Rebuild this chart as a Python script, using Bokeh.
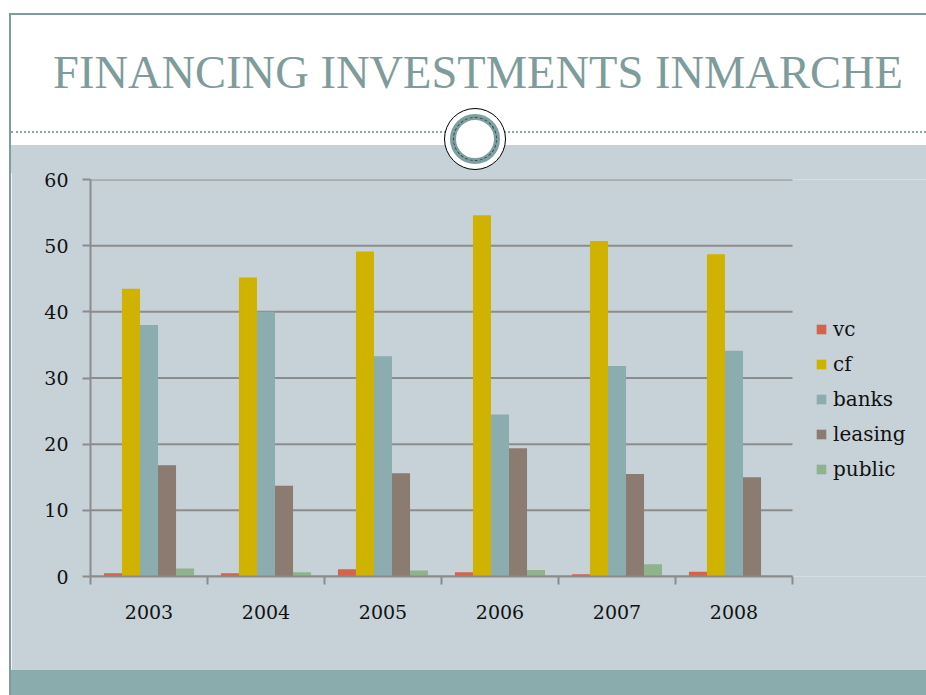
from bokeh.plotting import figure
from bokeh.models import ColumnDataSource, Range1d, FixedTicker, Div
from bokeh.layouts import column, row
from bokeh.transform import dodge
from bokeh.embed import file_html
from bokeh.resources import INLINE

# ---------------- data ----------------
title = "FINANCING INVESTMENTS INMARCHE"
years = ["2003", "2004", "2005", "2006", "2007", "2008"]
series = ["vc", "cf", "banks", "leasing", "public"]
vc = [0.5, 0.5, 1.1, 0.65, 0.35, 0.7]
cf = [43.5, 45.2, 49.1, 54.6, 50.7, 48.7]
banks = [38.0, 40.0, 33.3, 24.5, 31.8, 34.1]
leasing = [16.8, 13.7, 15.6, 19.4, 15.5, 15.0]
public = [1.2, 0.65, 0.9, 1.0, 1.85, 0.0]
y_ticks = [0, 10, 20, 30, 40, 50, 60]

colors = {"vc": "#d6624a", "cf": "#cfb300", "banks": "#8badb0",
          "leasing": "#8c7b70", "public": "#8fb38c"}

BG = "#c6d1d8"
TEAL = "#8aacac"
FRAME = "#7f9c9c"
GRID = "#8c8c8c"
SERIF = "DejaVu Serif"

# ---------------- header (HTML) ----------------
hdr_html = f"""
<div style="position:relative;width:926px;height:170px;background:white;overflow:visible;margin:0;padding:0">
  <div style="position:absolute;left:11px;top:145px;width:915px;height:28px;background:{BG}"></div>
  <div style="position:absolute;left:9px;top:13px;width:917px;height:160px;box-sizing:border-box;
              border-top:2px solid {FRAME};border-left:2px solid {FRAME}"></div>
  <div style="position:absolute;left:11px;top:131px;width:915px;height:0;border-top:2px dotted #8fa9a9"></div>
  <div style="position:absolute;left:0;top:50px;width:956px;text-align:center;white-space:nowrap;
              font-family:'Liberation Serif';font-size:46.5px;line-height:46px;color:{FRAME}">{title}</div>
  <div style="position:absolute;left:444px;top:108px;width:62px;height:62px;box-sizing:border-box;
              border:1px solid black;border-radius:50%;background:white"></div>
  <div style="position:absolute;left:450px;top:114px;width:50px;height:50px;box-sizing:border-box;
              border:6px solid #7fa0a0;border-radius:50%"></div>
  <div style="position:absolute;left:453px;top:117px;width:44px;height:44px;box-sizing:border-box;
              border:1px dashed #2f4848;border-radius:50%"></div>
</div>
"""
hdr = Div(text=hdr_html, width=926, height=170, margin=0)

# left frame strip beside the chart
strip_html = f"""
<div style="position:relative;width:11px;height:500px;background:white;margin:0;padding:0">
  <div style="position:absolute;left:9px;top:0;width:2px;height:500px;background:{FRAME}"></div>
</div>
"""
strip = Div(text=strip_html, width=11, height=500, margin=0)

# ---------------- chart ----------------
n = len(years)
centers = [i + 0.5 for i in range(n)]
src = ColumnDataSource(dict(x=centers, vc=vc, cf=cf, banks=banks, leasing=leasing, public=public))

# plot area spans 90..926 px; the category axis (0..n) occupies 90..792 px
x_end = n * (926 - 90) / (792 - 90)
p = figure(width=915, height=500, x_range=Range1d(0, x_end), y_range=Range1d(0, 60),
           toolbar_location=None, output_backend="svg",
           min_border_left=79, min_border_right=0, min_border_top=9, min_border_bottom=94)
p.margin = 0
p.background_fill_color = BG
p.border_fill_color = BG
p.outline_line_color = None
p.xgrid.visible = False
p.ygrid.visible = False

# horizontal gridlines limited to the category span
p.segment(x0=[0] * len(y_ticks), x1=[n] * len(y_ticks), y0=y_ticks, y1=y_ticks,
          line_color=GRID, line_width=2, level="underlay")

bw = 0.154
for k, name in enumerate(series):
    p.vbar(x=dodge("x", (k - 2) * bw, range=p.x_range), top=name, width=bw, source=src,
           fill_color=colors[name], line_color=None, legend_label=name)

# y axis
p.yaxis.ticker = FixedTicker(ticks=y_ticks)
p.yaxis.axis_line_color = GRID
p.yaxis.axis_line_width = 2
p.yaxis.major_tick_line_color = GRID
p.yaxis.major_tick_line_width = 2
p.yaxis.major_tick_out = 8
p.yaxis.major_tick_in = 0
p.yaxis.minor_tick_line_color = None
p.yaxis.major_label_standoff = 14
p.yaxis.major_label_text_font = SERIF
p.yaxis.major_label_text_font_size = "19px"
p.yaxis.major_label_text_color = "#111111"

# x axis
p.xaxis.bounds = (0, n)
p.xaxis.ticker = FixedTicker(ticks=centers, minor_ticks=list(range(n + 1)))
p.xaxis.major_label_overrides = {c: y for c, y in zip(centers, years)}
p.xaxis.axis_line_color = GRID
p.xaxis.axis_line_width = 2
p.xaxis.major_tick_line_color = None
p.xaxis.major_tick_out = 0
p.xaxis.major_tick_in = 0
p.xaxis.minor_tick_line_color = GRID
p.xaxis.minor_tick_line_width = 2
p.xaxis.minor_tick_out = 8
p.xaxis.minor_tick_in = 0
p.xaxis.major_label_standoff = 20
p.xaxis.major_label_text_font = SERIF
p.xaxis.major_label_text_font_size = "19px"
p.xaxis.major_label_text_color = "#111111"

lg = p.legend[0]
lg.location = (725, 95)
lg.background_fill_alpha = 0
lg.border_line_color = None
lg.padding = 0
lg.margin = 0
lg.spacing = 11
lg.glyph_width = 12
lg.glyph_height = 12
lg.label_height = 20
lg.label_standoff = 6
lg.label_text_font = SERIF
lg.label_text_font_size = "20px"
lg.label_text_color = "#111111"

# ---------------- footer (HTML) ----------------
ftr_html = f"""
<div style="position:relative;width:926px;height:25px;background:white;margin:0;padding:0">
  <div style="position:absolute;left:9px;top:0;width:2px;height:25px;background:{FRAME}"></div>
  <div style="position:absolute;left:11px;top:0;width:915px;height:25px;background:{TEAL}"></div>
</div>
"""
ftr = Div(text=ftr_html, width=926, height=25, margin=0)

layout = column(hdr, row(strip, p, spacing=0), ftr, spacing=0)
open("out.html", "w").write(file_html(layout, INLINE))
